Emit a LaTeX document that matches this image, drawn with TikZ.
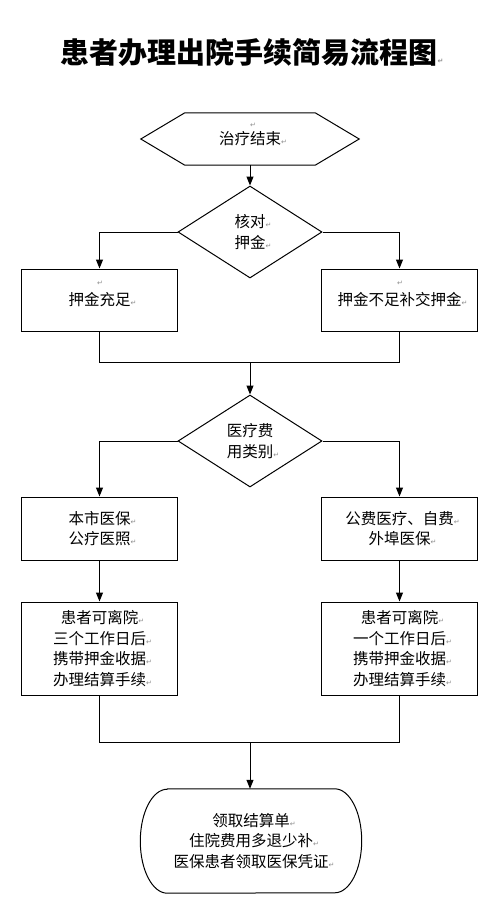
\documentclass[tikz,border=0pt]{standalone}
\usepackage{fontspec}
\setmainfont{Noto Sans CJK SC}
\newfontfamily\dejavu{DejaVu Sans}
\usetikzlibrary{arrows.meta,shapes.geometric}
\newcommand{\pmark}{\rlap{\textcolor{black!45}{\fontsize{7}{7}\selectfont\dejavu ↵}}}
\tikzset{
  ln/.style={line width=1pt, draw=black},
  arr/.style={ln, -{Triangle[length=9pt,width=7pt]}},
  txt/.style={align=center, inner sep=0pt, font=\fontsize{15.5}{20.5}\selectfont},
  box/.style={ln, txt, minimum width=156pt},
  dia/.style={ln, txt, diamond, minimum width=144pt, minimum height=92pt, aspect=1.56},
  mk/.style={inner sep=0pt, text=black!45, font=\fontsize{7}{7}\selectfont\dejavu}
}
\begin{document}
\begin{tikzpicture}[x=1pt,y=-1pt]
\useasboundingbox (0,0) rectangle (500,900);
% title
\node[inner sep=0pt, font=\fontsize{29}{29}\selectfont\bfseries] (title) at (249,52) {患者办理出院手续简易流程图\pmark};
% start hexagon
\node[txt, minimum width=218pt, minimum height=52pt] (hex) at (250,139) {治疗结束\pmark};
\node[mk] (hexmk) at (253,125) {↵};
\draw[ln] (hex.west) -- ([xshift=44pt]hex.north west) -- ([xshift=-44pt]hex.north east) -- (hex.east) -- ([xshift=-44pt]hex.south east) -- ([xshift=44pt]hex.south west) -- cycle;
% decision 1
\node[dia] (d1) at (250,232) {核对\pmark\\押金\pmark};
\node[box, minimum height=62pt] (b1) at (99.5,300) {押金充足\pmark};
\node[mk] (b1mk) at (100,283) {↵};
\node[box, minimum height=62pt] (b2) at (399.5,300) {押金不足补交押金\pmark};
\node[mk] (b2mk) at (400,283) {↵};
\coordinate (j1) at (250,362);
% decision 2
\node[dia] (d2) at (250,441) {医疗费\\用类别\pmark};
\node[box, minimum height=63pt] (b3) at (99.5,528.5) {本市医保\pmark\\公疗医照\pmark};
\node[box, minimum height=63pt] (b4) at (399.5,528.5) {公费医疗、自费\pmark\\外埠医保\pmark};
\node[box, minimum height=93pt] (b5) at (99.5,648.5) {患者可离院\pmark\\三个工作日后\pmark\\携带押金收据\pmark\\办理结算手续\pmark};
\node[box, minimum height=93pt] (b6) at (399.5,648.5) {患者可离院\pmark\\一个工作日后\pmark\\携带押金收据\pmark\\办理结算手续\pmark};
\coordinate (j2) at (250,742);
% terminal
\node[txt, minimum width=221pt, minimum height=104pt] (term) at (251,841) {领取结算单\pmark\\住院费用多退少补\pmark\\医保患者领取医保凭证\pmark};
\draw[ln] ([xshift=27pt]term.north west) -- ([xshift=-27pt]term.north east)
  arc[start angle=90, end angle=-90, x radius=27pt, y radius=52pt]
  -- ([xshift=27pt]term.south west)
  arc[start angle=270, end angle=90, x radius=27pt, y radius=52pt] -- cycle;
% connectors
\draw[arr] (hex.south) -- (d1.north);
\draw[arr] (d1.west) -| (b1.north);
\draw[arr] (d1.east) -| (b2.north);
\draw[ln] (b1.south) |- (j1);
\draw[ln] (b2.south) |- (j1);
\draw[arr] (j1) -- (d2.north);
\draw[arr] (d2.west) -| (b3.north);
\draw[arr] (d2.east) -| (b4.north);
\draw[arr] (b3.south) -- (b5.north);
\draw[arr] (b4.south) -- (b6.north);
\draw[ln] (b5.south) |- (j2);
\draw[ln] (b6.south) |- (j2);
\draw[arr] (j2) -- (j2 |- term.north);
\end{tikzpicture}
\end{document}
